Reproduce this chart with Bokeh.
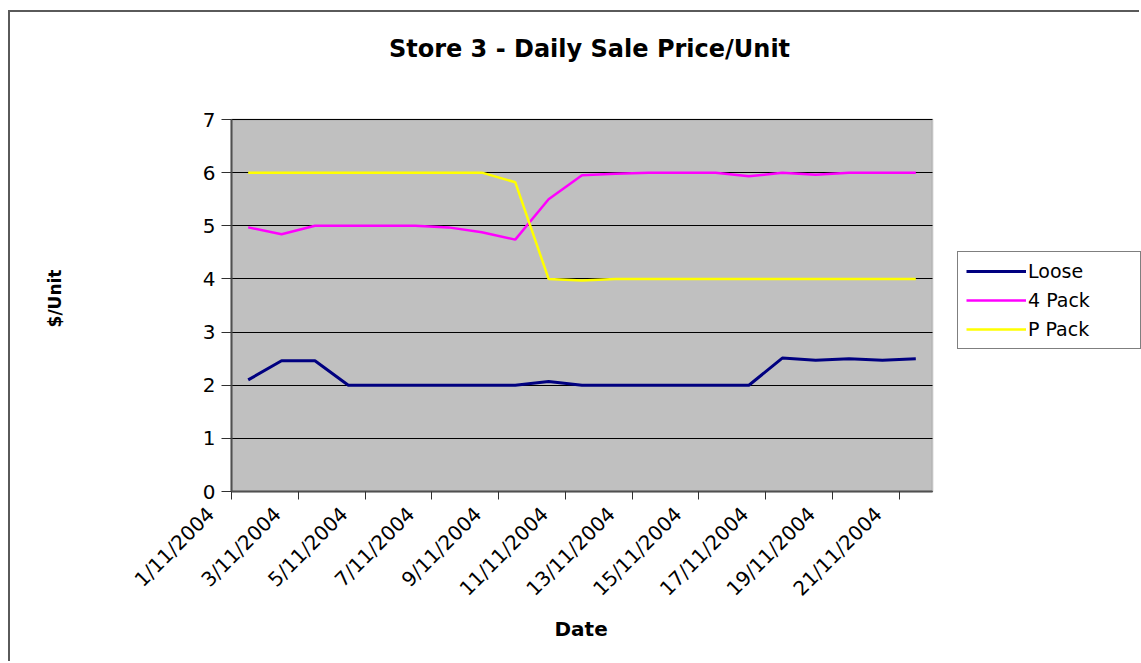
import math
from bokeh.plotting import figure
from bokeh.models import (Range1d, LinearAxis, FixedTicker, Legend, LegendItem,
                          Title, BoxAnnotation, Label)
from bokeh.embed import file_html
from bokeh.resources import INLINE

# ---------------- data ----------------
dates = ["1/11/2004", "2/11/2004", "3/11/2004", "4/11/2004", "5/11/2004", "6/11/2004",
         "7/11/2004", "8/11/2004", "9/11/2004", "10/11/2004", "11/11/2004", "12/11/2004",
         "13/11/2004", "14/11/2004", "15/11/2004", "16/11/2004", "17/11/2004", "18/11/2004",
         "19/11/2004", "20/11/2004", "21/11/2004"]
loose = [2.10, 2.46, 2.46, 2.00, 2.00, 2.00, 2.00, 2.00, 2.00, 2.07, 2.00,
         2.00, 2.00, 2.00, 2.00, 2.00, 2.51, 2.47, 2.50, 2.47, 2.50]
four_pack = [4.97, 4.84, 5.00, 5.00, 5.00, 5.00, 4.97, 4.88, 4.74, 5.50, 5.95,
             5.98, 6.00, 6.00, 6.00, 5.93, 6.00, 5.96, 6.00, 6.00, 6.00]
p_pack = [6.00, 6.00, 6.00, 6.00, 6.00, 6.00, 6.00, 6.00, 5.82, 4.00, 3.97,
          4.00, 4.00, 4.00, 4.00, 4.00, 4.00, 4.00, 4.00, 4.00, 4.00]
series_names = ["Loose", "4 Pack", "P Pack"]
y_ticks = [0, 1, 2, 3, 4, 5, 6, 7]
title_text = "Store 3 - Daily Sale Price/Unit"
x_title = "Date"
y_title = "$/Unit"

idx = list(range(len(dates)))
FONT = "DejaVu Sans"
cat_lo = idx[0] - 0.5          # left edge of first category slot
cat_hi = idx[-1] + 0.5         # right edge of last category slot
y_lo, y_hi = y_ticks[0], y_ticks[-1]

# ---------------- geometry (pixels on the canvas) ----------------
CANVAS_W, CANVAS_H = 1131, 651
AREA_L, AREA_R = 221, 922      # grey plot-area edges on the canvas
AREA_T, AREA_B = 107, 479
FRAME_B = AREA_B + 10          # frame reaches a little below the grey area
slot = (AREA_R - AREA_L) / (cat_hi - cat_lo)
ppu = (AREA_B - AREA_T) / (y_hi - y_lo)
x_start = cat_lo - AREA_L / slot
x_end = cat_lo + (CANVAS_W - AREA_L) / slot
y_start = y_lo - (FRAME_B - AREA_B) / ppu
y_end = y_hi + AREA_T / ppu

def sx(px):   # canvas x pixel -> data x
    return cat_lo + (px - AREA_L) / slot

def sy(py):   # canvas y pixel -> data y
    return y_hi - (py - AREA_T) / ppu

p = figure(width=CANVAS_W, height=CANVAS_H, output_backend="svg", toolbar_location=None,
           x_range=Range1d(x_start, x_end), y_range=Range1d(y_start, y_end),
           x_axis_location=None, y_axis_location="left",
           min_border_left=0, min_border_right=0, min_border_top=0,
           min_border_bottom=CANVAS_H - FRAME_B)
p.styles = {"border-top": "2px solid #5a5a5a", "border-left": "2px solid #5a5a5a",
            "margin-left": "8px", "margin-top": "10px"}

p.background_fill_color = "white"
p.border_fill_color = "white"
p.outline_line_color = None
p.title.visible = False

# grey plot area
p.add_layout(BoxAnnotation(left=cat_lo, right=cat_hi, bottom=y_lo, top=y_hi,
                           fill_color="#C0C0C0", fill_alpha=1,
                           line_color="#868686", line_width=2, level="image"))

# chart title and y-axis title
p.add_layout(Label(x=sx(579), y=sy(36), text=title_text, text_align="center",
                   text_baseline="middle", text_font=FONT, text_font_style="bold",
                   text_font_size="24px", text_color="black"))
p.add_layout(Label(x=sx(44), y=sy(286), text=y_title, angle=math.pi / 2,
                   text_align="center", text_baseline="middle", text_font=FONT,
                   text_font_style="bold", text_font_size="17px", text_color="black"))

# y axis (drawn at the left edge of the grey area)
ya = p.yaxis[0]
ya.fixed_location = cat_lo
ya.ticker = FixedTicker(ticks=y_ticks)
ya.major_label_text_font = FONT
ya.major_label_text_font_size = "20px"
ya.major_label_text_color = "black"
ya.major_label_standoff = 6
ya.major_tick_out = 10
ya.major_tick_in = 0
ya.minor_tick_out = 0
ya.minor_tick_in = 0
ya.major_tick_line_color = "#303030"
ya.axis_line_color = "#505050"
ya.axis_line_width = 2
ya.bounds = (y_lo, y_hi)

p.ygrid.ticker = FixedTicker(ticks=y_ticks)
p.ygrid.grid_line_color = "black"
p.ygrid.grid_line_width = 1
p.ygrid.cross_bounds = (cat_lo, cat_hi)
p.xgrid.visible = False

# x axis: line and tick marks at category boundaries (every 2 days)
tick_pos = [i - 0.5 for i in idx[::2]]
tick_axis = LinearAxis(ticker=FixedTicker(ticks=tick_pos), bounds=(cat_lo, cat_hi),
                       fixed_location=y_lo,
                       major_label_overrides={t: "" for t in tick_pos},
                       major_label_text_color=None, major_label_text_font_size="0px",
                       major_label_standoff=0,
                       major_tick_out=8, major_tick_in=0, minor_tick_out=0, minor_tick_in=0,
                       axis_line_color="#505050", axis_line_width=2,
                       major_tick_line_color="#303030")
p.add_layout(tick_axis, "below")

# x axis: rotated date labels every 2 days
lab_pos = [i - 1.125 for i in idx[::2]]
label_axis = LinearAxis(ticker=FixedTicker(ticks=lab_pos),
                        major_label_overrides={pos: dates[i] for pos, i in zip(lab_pos, idx[::2])},
                        major_label_orientation=math.pi / 4,
                        major_label_text_font=FONT, major_label_text_font_size="20px",
                        major_label_text_color="black", major_label_standoff=9,
                        major_tick_out=0, major_tick_in=0, minor_tick_out=0, minor_tick_in=0,
                        major_tick_line_color=None, minor_tick_line_color=None,
                        axis_line_color=None)
p.add_layout(label_axis, "below")

p.add_layout(Title(text=x_title, align="left", offset=544, text_font=FONT,
                   text_font_style="bold", text_font_size="20px", text_color="black",
                   standoff=7), "below")

# lines
r1 = p.line(idx, loose, line_color="#000080", line_width=3)
r2 = p.line(idx, four_pack, line_color="#FF00FF", line_width=2.5)
r3 = p.line(idx, p_pack, line_color="#FFFF00", line_width=2.5)

legend = Legend(items=[LegendItem(label=series_names[0], renderers=[r1]),
                       LegendItem(label=series_names[1], renderers=[r2]),
                       LegendItem(label=series_names[2], renderers=[r3])],
                location=(947, FRAME_B - 337), orientation="vertical",
                border_line_color="black", border_line_width=1,
                background_fill_color="white", background_fill_alpha=1,
                label_text_font=FONT, label_text_font_size="19px", label_text_color="black",
                glyph_width=60, glyph_height=20, label_height=20, label_width=104,
                label_standoff=2, spacing=7, padding=8, margin=0)
p.add_layout(legend, "center")

open("out.html", "w").write(file_html(p, INLINE))
